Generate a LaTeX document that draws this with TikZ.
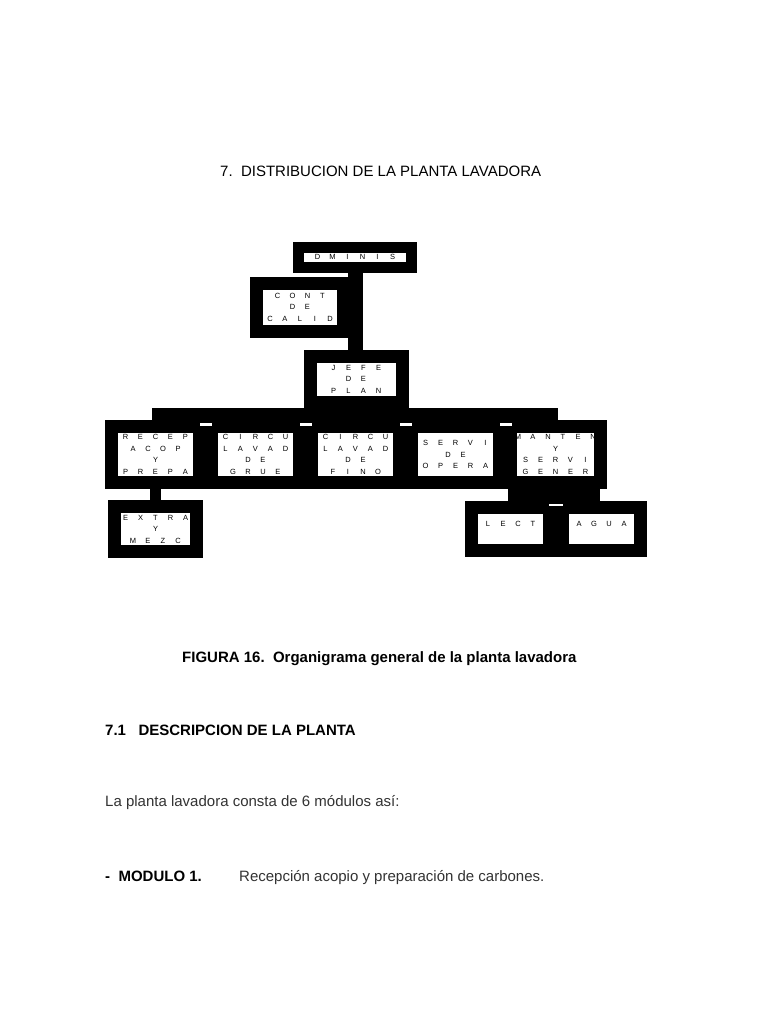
\documentclass[tikz,border=0pt]{standalone}
\usepackage{fontspec}
\setmainfont{Liberation Sans}
\makeatletter
\newcommand\ltr[1]{\@tfor\@ltrx:=#1\do{\makebox[15pt]{\@ltrx}}}
\makeatother
\tikzset{
  orgbox/.style={draw=black, fill=white, line width=13pt, inner sep=0pt,
    align=center, font=\fontsize{7.5}{11.5}\selectfont},
  rowbox/.style={orgbox, minimum width=88pt, minimum height=56pt},
  bar/.style={draw=black, line width=12pt},
  txt/.style={anchor=base west, inner sep=0pt, font=\fontsize{15}{18}\selectfont},
  btxt/.style={txt, font=\fontsize{15}{18}\selectfont\bfseries},
}
\begin{document}
\begin{tikzpicture}[x=1pt,y=-1pt]
\useasboundingbox[fill=white] (0,0) rectangle (768,1024);
\coordinate (busL) at (152,414);
\coordinate (busR) at (558,414);
\coordinate (busL2) at (508,495);
\coordinate (busR2) at (600,495);
% boxes
\node[orgbox, line width=11pt, minimum width=113pt, minimum height=20pt] (dminis) at (355,257) {\raisebox{0pt}[4pt][0pt]{\ltr{DMINIS}}};
\node[orgbox, minimum width=87pt, minimum height=48pt] (cont) at (300,307) {\ltr{CONT}\\\ltr{DE}\\\ltr{CALID}};
\node[orgbox, minimum width=92pt, minimum height=46pt] (jefe) at (356,379) {\ltr{JEFE}\\\ltr{DE}\\\ltr{PLAN}};
\draw[line width=15pt] (dminis.south) -- (dminis.south |- jefe.north);
\draw[bar] (busL) -- (busR);
\node[rowbox] (b1) at (155.5,454.5) {\ltr{RECEP}\\\ltr{ACOP}\\\ltr{Y}\\\ltr{PREPA}};
\node[rowbox] (b2) at (255.5,454.5) {\ltr{CIRCU}\\\ltr{LAVAD}\\\ltr{DE}\\\ltr{GRUE}};
\node[rowbox] (b3) at (355.5,454.5) {\ltr{CIRCU}\\\ltr{LAVAD}\\\ltr{DE}\\\ltr{FINO}};
\node[rowbox] (b4) at (455.5,454.5) {\ltr{SERVI}\\\ltr{DE}\\\ltr{OPERA}};
\node[rowbox] (b5) at (555.5,454.5) {\ltr{MANTEN}\\\ltr{Y}\\\ltr{SERVI}\\\ltr{GENER}};
\node[orgbox, minimum width=82pt, minimum height=45pt] (extra) at (155.5,529) {\ltr{EXTRA}\\\ltr{Y}\\\ltr{MEZC}};
\draw[line width=11pt] (b1.south) -- (extra.north);
\draw[line width=10pt] (b5.south) -- (b5.south |- busL2);
\draw[line width=14pt] (busL2) -- (busR2);
\node[orgbox, minimum width=78pt, minimum height=43pt] (lect) at (510.5,529) {\raisebox{11pt}{\ltr{LECT}}};
\node[orgbox, minimum width=78pt, minimum height=43pt] (agua) at (601.5,529) {\raisebox{11pt}{\ltr{AGUA}}};
% white notches
\foreach \x in {206,306,406,506} \fill[white] (\x-6,423) rectangle (\x+6,426);
\fill[white] (549,504) rectangle (563,506);
% texts
\node[txt] (t1) at (220,177) {7.\ \ DISTRIBUCION DE LA PLANTA LAVADORA};
\node[btxt] (t2) at (182,662) {FIGURA 16.\ \ Organigrama general de la planta lavadora};
\node[btxt] (t3) at (105,735) {7.1\ \ \ DESCRIPCION DE LA PLANTA};
\node[txt, text=black!80] (t4) at (105,806) {La planta lavadora consta de 6 módulos así:};
\node[btxt] (t5) at (105,881) {-\ \ MODULO 1.};
\node[txt, text=black!80] (t6) at (239,881) {Recepción acopio y preparación de carbones.};
\end{tikzpicture}
\end{document}
